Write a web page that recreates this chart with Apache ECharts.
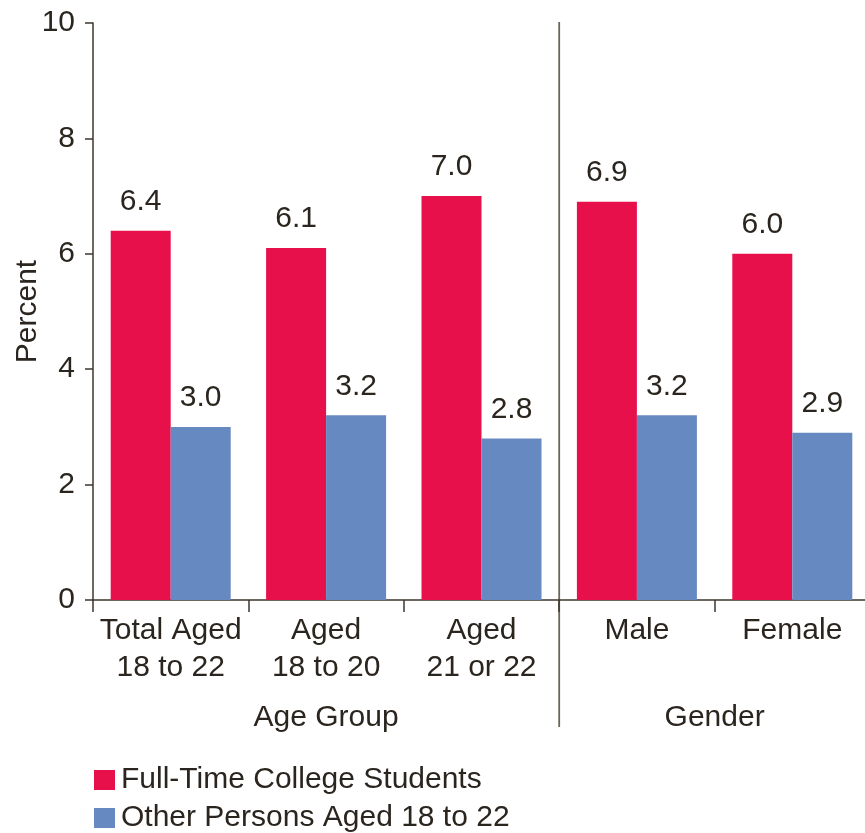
<!DOCTYPE html>
<html>
<head>
<meta charset="utf-8">
<script src="https://cdn.jsdelivr.net/npm/echarts@6/dist/echarts.min.js"></script>
<style>
  html, body { margin: 0; padding: 0; background: #ffffff; }
  #chart { width: 865px; height: 833px; }
</style>
</head>
<body>
<div id="chart"></div>
<script>
// Categories along the x axis (two-line labels)
const categories = ['Total Aged\n18 to 22', 'Aged\n18 to 20', 'Aged\n21 or 22', 'Male', 'Female'];
// Series values (percent)
const fullTimeStudents = [6.4, 6.1, 7.0, 6.9, 6.0];
const otherPersons = [3.0, 3.2, 2.8, 3.2, 2.9];
// Series names
const seriesNames = ['Full-Time College Students', 'Other Persons Aged 18 to 22'];
// Category groups shown under the axis labels: [first index, last index]
const groupNames = ['Age Group', 'Gender'];
const groupSpans = [[0, 2], [3, 4]];
// Y axis range
const yMin = 0, yMax = 10, yStep = 2;

const RED = '#E8104B';
const BLUE = '#6789C1';
const INK = '#2b251f';
const AXIS = '#3d362c';
const FONT = '"Liberation Sans", Arial, Helvetica, sans-serif';
const FS = 30;

const chart = echarts.init(document.getElementById('chart'), null, { renderer: 'canvas' });

const valueLabel = {
  show: true,
  position: 'top',
  distance: 14,
  color: INK,
  fontFamily: FONT,
  fontSize: FS,
  formatter: p => p.value.toFixed(1)
};

// one legend block per series, stacked on two rows
function legendRow(name, top) {
  return {
    left: 94,
    top: top,
    padding: 0,
    itemWidth: 21,
    itemHeight: 20,
    icon: 'rect',
    selectedMode: false,
    textStyle: { fontFamily: FONT, fontSize: FS, color: INK, padding: [0, 0, 0, 1] },
    data: [name]
  };
}

chart.setOption({
  animation: false,
  backgroundColor: '#ffffff',
  textStyle: { fontFamily: FONT, color: INK },
  grid: {
    left: 93, top: 23, width: 777, height: 577,
    containLabel: false,
    outerBoundsMode: 'none'
  },
  legend: [legendRow(seriesNames[0], 765), legendRow(seriesNames[1], 803)],
  xAxis: {
    type: 'category',
    data: categories,
    boundaryGap: true,
    axisLine: { show: true, lineStyle: { color: AXIS, width: 1.5 } },
    axisTick: { show: true, inside: false, length: 12, lineStyle: { color: AXIS, width: 1.5 } },
    axisLabel: {
      color: INK, fontFamily: FONT, fontSize: FS, lineHeight: 37, margin: 12, interval: 0
    },
    splitLine: { show: false }
  },
  yAxis: {
    type: 'value',
    min: yMin,
    max: yMax,
    interval: yStep,
    name: 'Percent',
    nameLocation: 'middle',
    nameGap: 50,
    nameRotate: 90,
    nameMoveOverlap: false,
    nameTextStyle: { fontFamily: FONT, fontSize: FS, color: INK },
    axisLine: { show: true, lineStyle: { color: AXIS, width: 1.5 } },
    axisTick: { show: true, inside: false, length: 8, lineStyle: { color: AXIS, width: 1.5 } },
    axisLabel: { color: INK, fontFamily: FONT, fontSize: FS, margin: 18 },
    splitLine: { show: false }
  },
  series: [
    {
      name: seriesNames[0],
      type: 'bar',
      data: fullTimeStudents,
      barWidth: 60,
      barGap: '0%',
      itemStyle: { color: RED },
      label: valueLabel
    },
    {
      name: seriesNames[1],
      type: 'bar',
      data: otherPersons,
      barWidth: 60,
      barGap: '0%',
      itemStyle: { color: BLUE },
      label: valueLabel
    }
  ]
});

// Group captions and the divider between groups, placed from the axis scale
function boundaryX(i) {
  // pixel x of the boundary on the left side of category i
  const c0 = chart.convertToPixel({ xAxisIndex: 0 }, 0);
  const c1 = chart.convertToPixel({ xAxisIndex: 0 }, 1);
  const step = c1 - c0;
  return c0 - step / 2 + step * i;
}

const elements = [];
groupSpans.forEach((span, g) => {
  const x0 = boundaryX(span[0]);
  const x1 = boundaryX(span[1] + 1);
  elements.push({
    type: 'text',
    x: (x0 + x1) / 2,
    y: 718,
    style: {
      text: groupNames[g],
      fontFamily: FONT,
      fontSize: FS,
      fill: INK,
      align: 'center',
      verticalAlign: 'middle'
    },
    silent: true
  });
  if (g > 0) {
    const top = chart.convertToPixel({ yAxisIndex: 0 }, yMax);
    elements.push({
      type: 'line',
      shape: { x1: x0, y1: top - 1, x2: x0, y2: 727 },
      style: { stroke: '#6b6458', lineWidth: 1.8 },
      silent: true
    });
  }
});
chart.setOption({ graphic: { elements } });
</script>
</body>
</html>
